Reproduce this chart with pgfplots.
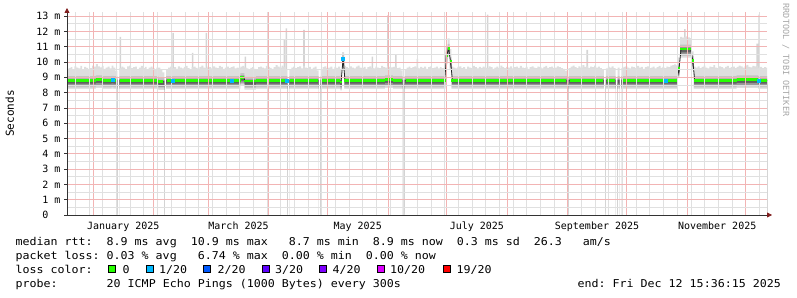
\documentclass[border=0pt]{standalone}
\usepackage{fontspec}
\setmainfont{DejaVu Sans Mono}
\newfontfamily\monof{DejaVu Sans Mono}
\newfontfamily\legfont[FakeStretch=1.077]{DejaVu Sans Mono}
\usepackage{pgfplots}
\pgfplotsset{compat=1.18}
\usepackage{pgfplotstable}
\usetikzlibrary{arrows.meta}
\definecolor{smA}{RGB}{222,222,222}
\definecolor{smB}{RGB}{196,196,196}
\definecolor{smC}{RGB}{150,150,150}
\definecolor{smD}{RGB}{95,95,95}
\definecolor{spk}{RGB}{212,212,212}
\definecolor{lc0}{HTML}{26FF00}
\definecolor{lc1}{HTML}{00B8FF}
\definecolor{lc2}{HTML}{0059FF}
\definecolor{lc3}{HTML}{5E00FF}
\definecolor{lc4}{HTML}{7E00FF}
\definecolor{lc10}{HTML}{DD00FF}
\definecolor{lc19}{HTML}{FF0000}
\definecolor{arr}{RGB}{128,30,30}
\definecolor{mgrid}{RGB}{242,180,180}
\definecolor{ngrid}{RGB}{224,224,224}
\newcommand\tickf{\monof\fontsize{10}{12}\selectfont}
\newcommand\legf{\legfont\fontsize{10.8}{13}\selectfont}
\pgfplotsset{bl/.style={ybar, bar width=1, bar shift=0pt, draw=none, fill=#1, forget plot, mark=none}}
\pgfplotstableread[row sep=\\]{
d m t\\
-13 8.8 9.52\\ -12 8.8 9.60\\ -11 8.8 9.66\\ -10 8.8 9.50\\ -9 8.8 9.72\\ -8 8.8 9.64\\ -7 8.8 9.58\\ -6 8.8 9.75\\
-5 8.8 9.54\\ -4 8.8 9.68\\ -3 8.8 9.62\\ -2 8.8 9.48\\ -1 8.8 9.60\\ 0 8.8 9.76\\ 1 8.8 9.70\\ 2 8.85 9.87\\
3 8.85 9.71\\ 4 8.85 9.65\\ 5 8.8 9.74\\ 6 8.8 9.56\\ 7 8.8 9.64\\ 8 8.8 9.70\\ 9 8.8 9.58\\ 10 8.82 9.76\\
11 8.8 9.64\\ 12 8.8 9.42\\ 13 nan nan\\
14 8.8 9.60\\ 15 8.8 9.70\\ 16 8.8 9.64\\ 17 8.8 9.54\\ 18 8.8 9.72\\ 19 8.8 9.76\\ 20 8.8 9.60\\ 21 8.8 9.66\\
22 8.8 9.70\\ 23 8.8 9.50\\ 24 8.8 9.64\\ 25 8.8 9.74\\ 26 8.8 9.60\\ 27 8.8 9.68\\ 28 8.8 9.54\\ 29 8.8 9.64\\
30 8.8 9.70\\ 31 8.8 9.60\\ 32 8.8 9.50\\ 33 8.8 9.64\\ 34 8.72 9.64\\ 35 8.72 9.48\\ 36 8.72 9.32\\ 37 nan nan\\
38 8.8 9.50\\ 39 8.8 9.64\\ 40 8.8 9.70\\ 41 8.8 9.60\\ 42 8.8 9.66\\ 43 8.8 9.56\\ 44 8.8 9.72\\ 45 8.8 9.64\\
46 8.8 9.58\\ 47 8.8 9.68\\ 48 8.8 9.74\\ 49 8.8 9.60\\ 50 8.8 9.54\\ 51 8.8 9.66\\ 52 8.8 9.70\\ 53 8.8 9.62\\
54 8.8 9.56\\ 55 8.8 9.68\\ 56 8.8 9.76\\ 57 8.8 9.64\\ 58 8.8 9.60\\ 59 8.8 9.70\\ 60 8.8 9.66\\ 61 8.8 9.58\\
62 8.8 9.72\\ 63 8.8 9.64\\ 64 8.8 9.60\\ 65 8.8 9.74\\ 66 8.8 9.68\\ 67 8.8 9.56\\ 68 8.8 9.64\\ 69 8.8 9.70\\
70 8.8 9.60\\ 71 8.8 9.66\\ 72 8.8 9.72\\ 73 8.8 9.58\\ 74 8.8 9.64\\ 75 8.8 9.60\\ 76 9.0 9.70\\ 77 9.0 9.75\\
78 8.75 9.65\\ 79 8.75 9.59\\ 80 8.75 9.53\\ 81 8.75 9.61\\ 82 8.75 9.67\\ 83 8.75 9.55\\ 84 8.8 9.54\\ 85 8.8 9.66\\
86 8.8 9.70\\ 87 8.8 9.64\\ 88 8.8 9.58\\ 89 8.8 9.74\\ 90 8.8 9.68\\ 91 8.8 9.62\\ 92 8.8 9.56\\ 93 8.8 9.66\\
94 8.8 9.80\\ 95 8.8 9.70\\ 96 8.8 9.64\\ 97 8.8 9.76\\ 98 8.8 9.68\\ 99 8.8 9.52\\ 100 nan nan\\
101 8.8 9.50\\ 102 8.8 9.64\\ 103 8.8 9.70\\ 104 8.8 9.60\\ 105 8.8 9.66\\ 106 8.8 9.72\\ 107 8.8 9.58\\ 108 8.8 9.74\\
109 8.8 9.64\\ 110 8.8 9.60\\ 111 8.8 9.68\\ 112 8.8 9.56\\ 113 8.8 9.64\\ 114 8.8 9.70\\ 115 8.8 9.46\\ 116 nan nan\\
117 8.8 9.52\\ 118 8.8 9.66\\ 119 8.8 9.72\\ 120 8.8 9.60\\ 121 8.8 9.64\\ 122 8.8 9.70\\ 123 8.8 9.56\\ 124 8.8 9.68\\
125 8.8 9.62\\ 126 8.8 9.70\\ 127 8.7 9.50\\ 128 10.2 10.65\\ 129 8.8 9.74\\ 130 8.8 9.66\\ 131 8.8 9.60\\ 132 8.8 9.72\\
133 8.8 9.64\\ 134 8.8 9.58\\ 135 8.8 9.70\\ 136 8.8 9.76\\ 137 8.8 9.64\\ 138 8.8 9.60\\ 139 8.8 9.68\\ 140 8.8 9.56\\
141 8.8 9.66\\ 142 8.8 9.72\\ 143 8.8 9.62\\ 144 8.8 9.58\\ 145 8.8 9.70\\ 146 8.8 9.64\\ 147 8.8 9.60\\ 148 8.8 9.74\\
149 8.8 9.66\\ 150 8.85 9.63\\ 151 8.85 9.75\\ 152 8.85 9.69\\ 153 8.85 9.65\\ 154 8.8 9.68\\ 155 8.8 9.72\\ 156 8.8 9.60\\
157 8.8 9.64\\ 158 8.8 9.46\\ 159 nan nan\\
160 8.8 9.50\\ 161 8.8 9.64\\ 162 8.8 9.70\\ 163 8.8 9.60\\ 164 8.8 9.66\\ 165 8.8 9.72\\ 166 8.8 9.64\\ 167 8.8 9.58\\
168 8.8 9.68\\ 169 8.8 9.62\\ 170 8.8 9.70\\ 171 8.8 9.56\\ 172 8.8 9.66\\ 173 8.8 9.72\\ 174 8.8 9.60\\ 175 8.8 9.64\\
176 8.8 9.70\\ 177 8.8 9.58\\ 178 8.8 9.66\\ 179 8.8 9.60\\ 180 8.8 9.64\\ 181 10.4 11.00\\ 182 10.9 11.55\\ 183 10.05 10.85\\
184 8.8 9.70\\ 185 8.8 9.64\\ 186 8.8 9.58\\ 187 8.8 9.68\\ 188 8.8 9.72\\ 189 8.8 9.60\\ 190 8.8 9.66\\ 191 8.8 9.56\\
192 8.8 9.70\\ 193 8.8 9.64\\ 194 8.8 9.60\\ 195 8.8 9.74\\ 196 8.8 9.66\\ 197 8.8 9.58\\ 198 8.8 9.68\\ 199 8.8 9.62\\
200 8.8 9.70\\ 201 8.8 9.64\\ 202 8.8 9.60\\ 203 8.8 9.72\\ 204 8.8 9.66\\ 205 8.8 9.56\\ 206 8.8 9.64\\ 207 8.8 9.70\\
208 8.8 9.60\\ 209 8.8 9.76\\ 210 8.8 9.66\\ 211 8.8 9.60\\ 212 8.8 9.68\\ 213 8.8 9.64\\ 214 8.8 9.72\\ 215 8.8 9.58\\
216 8.8 9.66\\ 217 8.8 9.70\\ 218 8.8 9.62\\ 219 8.8 9.74\\ 220 8.8 9.64\\ 221 8.8 9.60\\ 222 8.8 9.68\\ 223 8.8 9.56\\
224 8.8 9.66\\ 225 8.8 9.72\\ 226 8.8 9.64\\ 227 8.8 9.60\\ 228 8.8 9.70\\ 229 8.8 9.66\\ 230 8.8 9.58\\ 231 8.8 9.68\\
232 8.8 9.74\\ 233 8.8 9.62\\ 234 8.8 9.66\\ 235 8.8 9.70\\ 236 8.8 9.60\\ 237 8.8 9.64\\ 238 8.8 9.72\\ 239 8.8 9.66\\
240 8.8 9.60\\ 241 8.8 9.56\\ 242 8.8 9.44\\ 243 nan nan\\
244 8.8 9.60\\ 245 8.8 9.70\\ 246 8.8 9.76\\ 247 8.8 9.66\\ 248 8.8 9.60\\ 249 8.8 9.72\\ 250 8.8 9.64\\ 251 8.8 9.80\\
252 8.8 9.68\\ 253 8.8 9.74\\ 254 8.8 9.62\\ 255 8.8 9.70\\ 256 8.8 9.66\\ 257 8.8 9.76\\ 258 8.8 9.64\\ 259 8.8 9.70\\
260 8.8 9.60\\ 261 8.8 9.50\\ 262 nan nan\\
263 8.8 9.58\\ 264 8.8 9.70\\ 265 8.8 9.64\\ 266 8.8 9.72\\ 267 8.8 9.60\\ 268 nan nan\\ 269 8.8 9.64\\ 270 nan nan\\
271 8.8 9.60\\ 272 8.8 9.68\\ 273 8.8 9.72\\ 274 8.8 9.64\\ 275 8.8 9.58\\ 276 8.8 9.70\\ 277 8.8 9.66\\ 278 8.8 9.60\\
279 8.8 9.74\\ 280 8.8 9.64\\ 281 8.8 9.68\\ 282 8.8 9.56\\ 283 8.8 9.66\\ 284 8.8 9.72\\ 285 8.8 9.60\\ 286 8.8 9.64\\
287 8.8 9.70\\ 288 8.8 9.58\\ 289 8.8 9.66\\ 290 8.8 9.74\\ 291 8.8 9.62\\ 292 8.8 9.68\\ 293 8.8 9.60\\ 294 8.8 9.70\\
295 8.8 9.66\\ 296 8.8 9.76\\ 297 8.8 9.80\\ 298 8.8 9.85\\ 299 8.8 9.78\\ 300 9.6 10.30\\ 301 10.85 11.65\\ 302 10.85 11.59\\
303 10.85 11.63\\ 304 10.85 11.67\\ 305 10.85 11.61\\ 306 10.85 11.57\\ 307 10.1 10.70\\ 308 8.8 9.70\\ 309 8.8 9.64\\ 310 8.8 9.72\\
311 8.8 9.60\\ 312 8.8 9.68\\ 313 8.8 9.76\\ 314 8.8 9.64\\ 315 8.8 9.58\\ 316 8.8 9.70\\ 317 8.8 9.66\\ 318 8.8 9.80\\
319 8.8 9.64\\ 320 8.8 9.60\\ 321 8.8 9.72\\ 322 8.8 9.66\\ 323 8.8 9.58\\ 324 8.8 9.68\\ 325 8.8 9.74\\ 326 8.8 9.62\\
327 8.8 9.66\\ 328 8.8 9.70\\ 329 8.8 9.60\\ 330 8.85 9.69\\ 331 8.85 9.77\\ 332 8.85 9.71\\ 333 8.85 9.63\\ 334 8.85 9.73\\
335 8.85 9.81\\ 336 8.85 9.69\\ 337 8.85 9.65\\ 338 8.85 9.75\\ 339 8.85 9.71\\ 340 8.85 9.77\\ 341 8.8 9.64\\ 342 8.8 9.68\\
343 8.8 9.60\\ 344 8.8 9.66\\ 345 8.8 9.62\\
}\smoke
\pgfplotstableread[row sep=\\]{
d top\\
14 11.65\\ 41 11.9\\ 51 10.6\\ 58 11.9\\ 78 10.35\\ 98 11.5\\ 99 12.2\\
108 12.1\\ 143 10.35\\ 151 13.05\\ 155 10.5\\ 166 10.2\\ 202 13.1\\ 253 10.8\\
303 12.15\\ 340 11.2\\ 341 13.1\\
}\spikes
\begin{document}
\begin{tikzpicture}[x=1pt,y=1pt]
\useasboundingbox (0,0) rectangle (797,297);
\begin{axis}[
 at={(67pt,82pt)}, anchor=south west,
 scale only axis, width=700pt, height=203pt,
 xmin=-13.3, xmax=345, ymin=0, ymax=13.27,
 axis lines=left,
 axis on top,
 axis line style={draw=black!80, line width=0.8pt},
 x axis line style={-{Triangle[length=5pt,width=5pt,color=arr]}, shorten >=-5pt},
 y axis line style={-{Triangle[length=5pt,width=5pt,color=arr]}, shorten >=-4pt},
 unbounded coords=jump,
 xtick={0,31,59,90,120,151,181,212,243,273,304,334},
 xticklabels={},
 minor xtick={-9,-2,5,12,19,26,33,40,47,54,61,68,75,82,89,96,103,110,117,124,131,138,145,152,159,166,173,180,187,194,201,208,215,222,229,236,243,250,257,264,271,278,285,292,299,306,313,320,327,334,341},
 extra x ticks={15.5,74.5,135.5,196.5,258,319.5},
 extra x tick labels={January 2025,March 2025,May 2025,July 2025,September 2025,November 2025},
 extra x tick style={grid=none, major tick length=0pt},
 xticklabel style={yshift=-3.5pt},
 ytick={0,1,2,3,4,5,6,7,8,9,10,11,12,13},
 yticklabels={0\phantom{~m},1 m,2 m,3 m,4 m,5 m,6 m,7 m,8 m,9 m,10 m,11 m,12 m,13 m},
 minor y tick num=1,
 grid=both,
 major grid style={draw=mgrid, line width=0.7pt},
 minor grid style={draw=ngrid, line width=0.6pt},
 xtick style={draw=none},
 ytick style={draw=black!80, line width=0.8pt},
 tick align=outside,
 major tick length=3pt,
 minor tick length=0pt,
 ticklabel style={font=\tickf, text=black},
]
\addplot[bl=spk, bar width=0.8] table[x=d,y=top]{\spikes};
\addplot[bl=smA] table[x=d,y=t]{\smoke};
\addplot[bl=smB, yshift=4.28pt] table[x=d,y=m]{\smoke};
\addplot[bl=smC, yshift=1.84pt] table[x=d,y=m]{\smoke};
\addplot[bl=smD, yshift=0.61pt] table[x=d,y=m]{\smoke};
\addplot[bl=smC, yshift=-3.37pt] table[x=d,y=m]{\smoke};
\addplot[bl=smB, yshift=-5.35pt] table[x=d,y=m]{\smoke};
\addplot[bl=smA, yshift=-6.88pt] table[x=d,y=m]{\smoke};
\addplot[bl=white, yshift=-8.57pt] table[x=d,y=m]{\smoke};
\addplot[black!85, line width=0.8pt, mark=none, forget plot] table[x=d,y=m]{\smoke};
\addplot[lc0, line width=2.6pt, mark=none, jump mark mid, forget plot] table[x=d,y=m]{\smoke};
\addplot[only marks, mark=square*, mark size=1.5pt, color=lc1, mark options={draw=lc1, fill=lc1}, forget plot] coordinates {(10,8.82) (41,8.8) (71,8.8) (99,8.8) (128,10.2) (293,8.8) (341,8.8)};
\end{axis}
\node[rotate=90, anchor=base, font=\monof\fontsize{11}{13}\selectfont] at (14,183.5) {Seconds};
\node[rotate=-90, anchor=base, font=\monof\fontsize{8.5}{10}\selectfont, text=black!35] at (783,237) {RRDTOOL / TOBI OETIKER};
\tikzset{lg/.style={anchor=base west, inner sep=0pt, font=\legf}}
\node[lg] at (15.5,51.3) {median rtt:~~8.9~ms~avg~~10.9~ms~max~~~8.7~ms~min~~8.9~ms~now~~0.3~ms~sd~~26.3~~~am/s};
\node[lg] at (15.5,37.7) {packet loss:~0.03~\%~avg~~~6.74~\%~max~~0.00~\%~min~~0.00~\%~now};
\node[lg] at (15.5,23.7) {loss color:};
\draw[black, line width=0.8pt, fill=lc0] (108.5,24.2) rectangle (115.5,31.8);
\node[lg] at (122.5,23.7) {0};
\draw[black, line width=0.8pt, fill=lc1] (146,24.2) rectangle (153,31.8);
\node[lg] at (159,23.7) {1/20};
\draw[black, line width=0.8pt, fill=lc2] (203.5,24.2) rectangle (210.5,31.8);
\node[lg] at (217.5,23.7) {2/20};
\draw[black, line width=0.8pt, fill=lc3] (262,24.2) rectangle (269,31.8);
\node[lg] at (275,23.7) {3/20};
\draw[black, line width=0.8pt, fill=lc4] (319.5,24.2) rectangle (326.5,31.8);
\node[lg] at (332.5,23.7) {4/20};
\draw[black, line width=0.8pt, fill=lc10] (377,24.2) rectangle (384,31.8);
\node[lg] at (390,23.7) {10/20};
\draw[black, line width=0.8pt, fill=lc19] (443,24.2) rectangle (450,31.8);
\node[lg] at (456.5,23.7) {19/20};
\node[lg] at (15.5,9.7) {probe:~~~~~~~20~ICMP~Echo~Pings~(1000~Bytes)~every~300s};
\node[lg] at (577.5,9.7) {end:~Fri~Dec~12~15:36:15~2025};
\end{tikzpicture}
\end{document}
